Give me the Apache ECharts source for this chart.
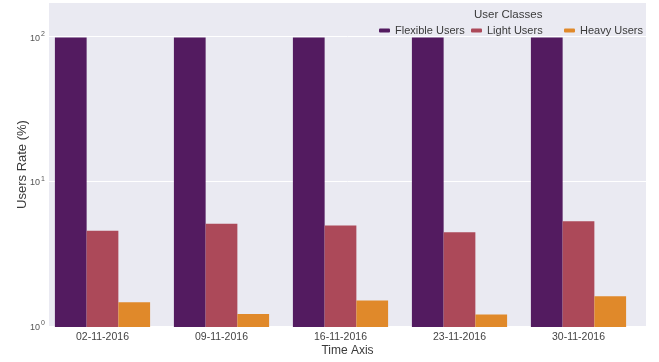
<!DOCTYPE html>
<html>
<head>
<meta charset="utf-8">
<style>
  html, body { margin: 0; padding: 0; background: #ffffff; }
  #chart { width: 659px; height: 362px; }
</style>
<script src="https://cdn.jsdelivr.net/npm/echarts@6/dist/echarts.min.js"></script>
</head>
<body>
<div id="chart"></div>
<script>
// Weekly user-class rates (percent), log scale
const categories = ['02-11-2016', '09-11-2016', '16-11-2016', '23-11-2016', '30-11-2016'];
const flexibleUsers = [99, 99, 99, 99, 99];
const lightUsers = [4.6, 5.15, 5.0, 4.5, 5.35];
const heavyUsers = [1.48, 1.23, 1.52, 1.22, 1.63];
const seriesNames = ['Flexible Users', 'Light Users', 'Heavy Users'];
const seriesColors = ['#531b60', '#ac4959', '#e0892a'];
const yMin = 1;
const yMax = 171;

const FONT = '"Liberation Sans", Arial, sans-serif';

const chart = echarts.init(document.getElementById('chart'), null, { renderer: 'canvas' });

const seriesData = [flexibleUsers, lightUsers, heavyUsers];

// one legend entry per column, placed like a three-column legend
const legendLefts = [374, 466, 559];
const legends = seriesNames.map(function (name, i) {
  return {
    data: [name],
    left: legendLefts[i],
    top: 20,
    itemWidth: 11,
    itemHeight: 4,
    icon: 'roundRect',
    textStyle: { fontFamily: FONT, fontSize: 11, color: '#3a3a3a' }
  };
});

chart.setOption({
  backgroundColor: '#ffffff',
  animation: false,
  textStyle: { fontFamily: FONT },
  title: {
    text: 'User Classes',
    left: 469,
    top: 4,
    textStyle: { fontFamily: FONT, fontSize: 11.5, fontWeight: 'normal', color: '#3a3a3a' }
  },
  legend: legends,
  grid: [
    // plotting panel: background, gridlines and y ticks
    { left: 49, right: 13, top: 3, bottom: 35, show: true, backgroundColor: '#eaeaf2', borderWidth: 0 },
    // bars
    { left: 43, right: 21, top: 3, bottom: 35, show: false }
  ],
  xAxis: [
    {
      gridIndex: 0, type: 'category', data: categories,
      axisLine: { show: false }, axisTick: { show: false }, axisLabel: { show: false },
      splitLine: { show: false },
      name: 'Time Axis', nameLocation: 'middle', nameGap: 19,
      nameTextStyle: { fontFamily: FONT, fontSize: 12, color: '#3a3a3a' }
    },
    {
      gridIndex: 1, type: 'category', data: categories,
      axisLine: { show: false }, axisTick: { show: false },
      axisLabel: { margin: 5, fontFamily: FONT, fontSize: 10.5, color: '#444444' },
      splitLine: { show: false }
    }
  ],
  yAxis: [
    {
      gridIndex: 0, type: 'log', logBase: 10, min: yMin, max: yMax,
      axisLine: { show: false }, axisTick: { show: false },
      splitLine: { show: true, showMaxLine: false, lineStyle: { color: '#ffffff', width: 1 } },
      axisLabel: {
        margin: 4,
        showMaxLabel: false,
        formatter: function (v) {
          const e = Math.round(Math.log10(v));
          return '{b|10}{s|' + e + '}';
        },
        rich: {
          b: { fontFamily: FONT, fontSize: 9, color: '#555555', verticalAlign: 'bottom', lineHeight: 12 },
          s: { fontFamily: FONT, fontSize: 7, color: '#555555', verticalAlign: 'top', lineHeight: 12, padding: [0, 0, 4, 1] }
        }
      },
      name: 'Users Rate (%)', nameLocation: 'middle', nameGap: 20,
      nameMoveOverlap: false,
      nameTextStyle: { fontFamily: FONT, fontSize: 13, color: '#3a3a3a' }
    },
    {
      gridIndex: 1, type: 'log', logBase: 10, min: yMin, max: yMax, show: false,
      splitLine: { show: false }
    }
  ],
  series: seriesNames.map(function (name, i) {
    return {
      name: name,
      type: 'bar',
      xAxisIndex: 1,
      yAxisIndex: 1,
      data: seriesData[i],
      barCategoryGap: '20%',
      barGap: '0%',
      itemStyle: { color: seriesColors[i] },
      emphasis: { disabled: true }
    };
  })
});
</script>
</body>
</html>
